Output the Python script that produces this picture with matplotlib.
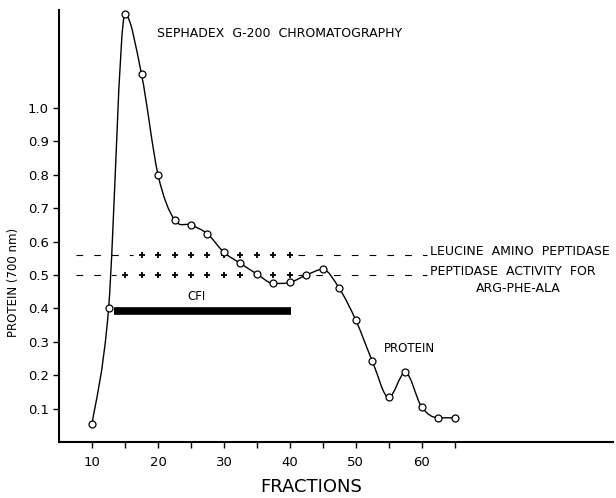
import numpy as np
import matplotlib
matplotlib.use("Agg")
import matplotlib.pyplot as plt
from matplotlib.path import Path
from matplotlib.patches import PathPatch

# protein (700 nm) per fraction
fractions = [10, 12.5, 15, 17.5, 20, 22.5, 25, 27.5, 30, 32.5, 35, 37.5, 40,
             42.5, 45, 47.5, 50, 52.5, 55, 57.5, 60, 62.5, 65]
protein = [0.056, 0.40, 1.28, 1.10, 0.80, 0.665, 0.65, 0.623, 0.568, 0.535,
           0.503, 0.475, 0.478, 0.50, 0.517, 0.46, 0.365, 0.243, 0.134,
           0.209, 0.105, 0.073, 0.073]

# activity rows (level, fractions with a "+")
leucine_level = 0.561
leucine_fracs = [17.5, 20, 22.5, 25, 27.5, 30, 32.5, 35, 37.5, 40]
argphe_level = 0.501
argphe_fracs = [15, 17.5, 20, 22.5, 25, 27.5, 30, 32.5, 35, 37.5, 40]
dash_start, dash_end = 7.5, 60.8

# CFI bar
cfi_start, cfi_end, cfi_level = 13.3, 40.2, 0.394

xticks = [10, 20, 30, 40, 50, 60]
xminor = [15, 25, 35, 45, 55, 65]
yticks = [0.1, 0.2, 0.3, 0.4, 0.5, 0.6, 0.7, 0.8, 0.9, 1.0]


def smooth_path(x, y):
    """Catmull-Rom style curve through the points, flat at peaks and dips."""
    pts = np.column_stack([x, y]).astype(float)
    n = len(pts)
    tang = np.zeros_like(pts)
    for i in range(n):
        a = pts[max(i - 1, 0)]
        b = pts[min(i + 1, n - 1)]
        tang[i] = b - a
        if 0 < i < n - 1:
            if (pts[i, 1] - a[1]) * (b[1] - pts[i, 1]) <= 0:
                tang[i, 1] = 0.0
    verts = [pts[0]]
    codes = [Path.MOVETO]
    for i in range(n - 1):
        verts += [pts[i] + tang[i] / 6, pts[i + 1] - tang[i + 1] / 6, pts[i + 1]]
        codes += [Path.CURVE4] * 3
    return Path(verts, codes)


def activity_row(ax, level, fracs):
    # dashes before and after the run of crosses
    dash = dict(ls=(0, (6, 10)), color='black', lw=0.8)
    ax.plot([dash_start, fracs[0] - 1.3], [level] * 2, **dash)
    ax.plot([fracs[-1] + 1.3, dash_end], [level] * 2, **dash)
    ax.plot(fracs, [level] * len(fracs), '+', color='black', ms=4.5, mew=1.3)


plt.rcParams['font.family'] = ['DejaVu Sans']
fig = plt.figure(figsize=(6.16, 4.98), dpi=100)
ax = fig.add_axes([0.096, 0.112, 0.899, 0.868])

ax.add_patch(PathPatch(smooth_path(fractions, protein), fill=False,
                       color='black', lw=1.0))
ax.plot(fractions, protein, 'o', ms=5, mfc='white', mec='black', mew=0.9,
        zorder=3)

activity_row(ax, leucine_level, leucine_fracs)
activity_row(ax, argphe_level, argphe_fracs)

ax.plot([cfi_start, cfi_end], [cfi_level] * 2, color='black', lw=5.5,
        solid_capstyle='butt')
ax.text(24.5, 0.425, 'CFI', fontsize=8.5)

ax.text(19.8, 1.212, 'SEPHADEX  G-200  CHROMATOGRAPHY', fontsize=9)
ax.text(61.3, leucine_level + 0.01, 'LEUCINE  AMINO  PEPTIDASE', fontsize=9,
        va='center')
ax.text(61.3, argphe_level + 0.01, 'PEPTIDASE  ACTIVITY  FOR', fontsize=9,
        va='center')
ax.text(74.7, 0.46, 'ARG-PHE-ALA', fontsize=9, va='center', ha='center')
ax.text(54.2, 0.27, 'PROTEIN', fontsize=8.5)

ax.set_xlim(5, 89)
ax.set_ylim(0, 1.293)
ax.set_xticks(xticks)
ax.set_xticks(xminor, minor=True)
ax.set_yticks(yticks)
ax.set_yticklabels([f'{v:.1f}' for v in yticks])
ax.tick_params(axis='both', which='both', direction='out', length=4,
               width=1, labelsize=9.5)
ax.tick_params(axis='x', pad=6)
for s in ['top', 'right']:
    ax.spines[s].set_visible(False)
for s in ['left', 'bottom']:
    ax.spines[s].set_linewidth(1.5)

ax.set_xlabel('FRACTIONS', fontsize=13, fontweight='medium', va='center')
ax.xaxis.set_label_coords(0.455, -0.103)
ax.set_ylabel('PROTEIN (700 nm)', fontsize=8.5)
ax.yaxis.set_label_coords(-0.07, 0.37)

fig.savefig('out.png', dpi=100)
